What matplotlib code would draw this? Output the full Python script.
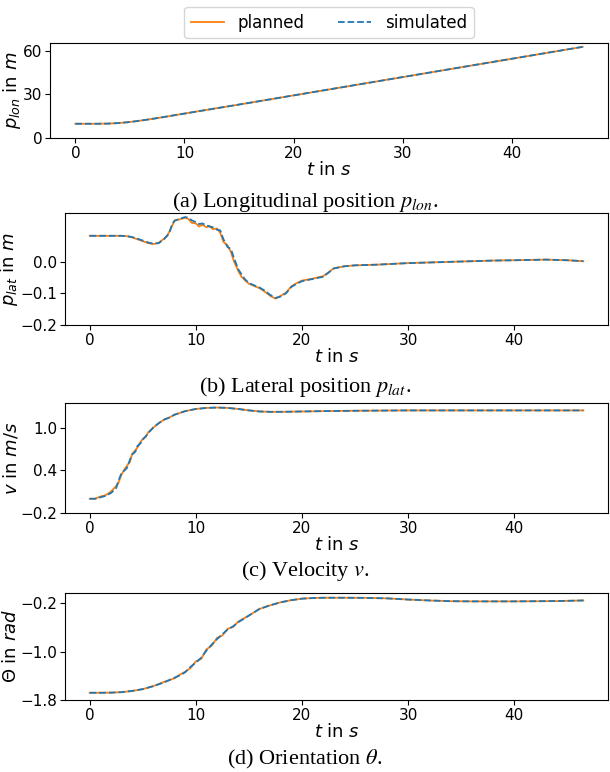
import numpy as np
import matplotlib.pyplot as plt

# longitudinal position
t_lon = [0, 1, 2, 3, 4, 5, 6, 7, 8, 10, 12, 15, 20, 25, 30, 35, 40, 45, 46.5]
lon_plan = [9.8, 9.8, 9.8, 9.9, 10.3, 11.0, 12.0, 13.1, 14.3, 16.8, 19.3, 23.0,
            29.3, 35.6, 41.9, 48.2, 54.5, 60.8, 62.7]
lon_sim = [9.8, 9.8, 9.8, 9.9, 10.3, 11.0, 12.0, 13.1, 14.3, 16.8, 19.3, 23.0,
           29.3, 35.6, 41.9, 48.2, 54.5, 60.8, 62.7]

# lateral position
t_lat = [0, 1, 2, 3, 3.5, 4, 4.5, 5, 5.5, 6, 6.5, 7, 7.3, 7.5, 7.8, 8, 8.5, 9,
         9.3, 9.6, 10, 10.3, 10.6, 11, 11.3, 11.6, 12, 12.3, 12.6, 13, 13.3,
         13.6, 14, 14.3, 14.6, 15, 15.5, 16, 16.5, 17, 17.5, 18, 18.5, 19, 19.5,
         20, 21, 22, 22.5, 23, 24, 25, 27, 30, 33, 35, 38, 40, 43, 45, 46.5]
lat_sim = [0.081, 0.081, 0.081, 0.081, 0.080, 0.077, 0.072, 0.066, 0.060, 0.056,
           0.058, 0.070, 0.082, 0.090, 0.120, 0.128, 0.135, 0.140, 0.138, 0.130,
           0.124, 0.118, 0.120, 0.114, 0.110, 0.108, 0.100, 0.098, 0.070, 0.045,
           0.040, 0.010, -0.025, -0.040, -0.055, -0.068, -0.075, -0.082, -0.092,
           -0.105, -0.115, -0.110, -0.100, -0.080, -0.070, -0.062, -0.055, -0.048,
           -0.035, -0.022, -0.015, -0.012, -0.010, -0.005, -0.002, 0.000, 0.003,
           0.004, 0.006, 0.004, 0.001]
lat_plan = [0.081, 0.081, 0.081, 0.081, 0.080, 0.076, 0.070, 0.064, 0.058, 0.055,
            0.059, 0.072, 0.080, 0.094, 0.115, 0.130, 0.133, 0.138, 0.134, 0.122,
            0.120, 0.110, 0.116, 0.108, 0.112, 0.102, 0.104, 0.090, 0.062, 0.050,
            0.030, 0.000, -0.030, -0.048, -0.058, -0.070, -0.077, -0.084, -0.095,
            -0.108, -0.117, -0.108, -0.098, -0.078, -0.068, -0.060, -0.054, -0.046,
            -0.034, -0.021, -0.015, -0.012, -0.010, -0.005, -0.002, 0.000, 0.003,
            0.004, 0.006, 0.004, 0.001]

# velocity
t_v = [0, 0.5, 1, 1.5, 2, 2.5, 2.7, 3, 3.3, 3.5, 3.8, 4, 4.3, 4.5, 4.8, 5, 5.3,
       5.5, 6, 6.5, 7, 7.5, 8, 9, 10, 11, 12, 13, 14, 15, 16, 17, 18, 20, 22, 25,
       30, 35, 40, 46.5]
v_sim = [0.0, 0.0, 0.02, 0.04, 0.08, 0.15, 0.25, 0.36, 0.40, 0.43, 0.55, 0.62,
         0.66, 0.74, 0.78, 0.83, 0.88, 0.92, 1.00, 1.06, 1.11, 1.14, 1.18, 1.23,
         1.26, 1.275, 1.28, 1.275, 1.26, 1.24, 1.225, 1.22, 1.22, 1.225, 1.23,
         1.235, 1.24, 1.24, 1.24, 1.24]
v_plan = [0.0, 0.0, 0.03, 0.05, 0.10, 0.18, 0.22, 0.34, 0.42, 0.46, 0.52, 0.63,
          0.68, 0.72, 0.80, 0.84, 0.87, 0.93, 1.00, 1.06, 1.11, 1.14, 1.18, 1.23,
          1.26, 1.275, 1.28, 1.275, 1.26, 1.24, 1.225, 1.22, 1.22, 1.225, 1.23,
          1.235, 1.24, 1.24, 1.24, 1.24]

# orientation
t_th = [0, 1, 2, 3, 4, 5, 6, 7, 8, 8.5, 9, 9.5, 10, 10.5, 11, 11.5, 12, 12.5, 13,
        13.5, 14, 15, 16, 17, 18, 19, 20, 21, 22, 24, 26, 28, 30, 32, 34, 36, 40,
        44, 46.5]
th_sim = [-1.68, -1.68, -1.678, -1.67, -1.65, -1.62, -1.57, -1.51, -1.43, -1.39,
          -1.34, -1.25, -1.18, -1.10, -0.98, -0.88, -0.79, -0.71, -0.63, -0.58,
          -0.51, -0.40, -0.29, -0.23, -0.18, -0.145, -0.12, -0.11, -0.105, -0.105,
          -0.107, -0.115, -0.135, -0.15, -0.162, -0.165, -0.165, -0.16, -0.15]
th_plan = [-1.68, -1.68, -1.678, -1.67, -1.65, -1.62, -1.57, -1.50, -1.44, -1.38,
           -1.33, -1.27, -1.16, -1.12, -0.96, -0.90, -0.77, -0.73, -0.62, -0.59,
           -0.50, -0.40, -0.29, -0.23, -0.18, -0.145, -0.12, -0.11, -0.105, -0.105,
           -0.107, -0.115, -0.135, -0.15, -0.162, -0.165, -0.165, -0.16, -0.15]

panels = [
    (t_lon, lon_plan, lon_sim, r'$p_{lon}$ in $m$', [0, 30, 60], 0,
     r'(a) Longitudinal position $p_{lon}$.'),
    (t_lat, lat_plan, lat_sim, r'$p_{lat}$ in $m$', [-0.2, -0.1, 0.0], -0.2,
     r'(b) Lateral position $p_{lat}$.'),
    (t_v, v_plan, v_sim, r'$v$ in $m/s$', [-0.2, 0.4, 1.0], -0.2,
     r'(c) Velocity $v$.'),
    (t_th, th_plan, th_sim, r'$\Theta$ in $rad$', [-1.8, -1.0, -0.2], -1.8,
     r'(d) Orientation $\theta$.'),
]

W, H = 610, 772
boxes = [(50, 43, 608, 138), (65, 213, 608, 325), (65, 403, 608, 513), (65, 593, 608, 700)]
cap_y = [202, 387, 571, 759]

fig = plt.figure(figsize=(6.1, 7.72), dpi=100)
for i, ((t, plan, sim, ylab, yt, ybot, cap), (x0, y0, x1, y1), cy) in enumerate(zip(panels, boxes, cap_y)):
    ax = fig.add_axes([x0 / W, 1 - y1 / H, (x1 - x0) / W, (y1 - y0) / H])
    ax.plot(t, plan, color='C1', lw=1.3, label='planned')
    ax.plot(t, sim, color='C0', lw=1.3, ls='--', label='simulated')
    ax.set_yticks(yt)
    ax.set_ylim(bottom=ybot)
    ax.set_xticks([0, 10, 20, 30, 40])
    ax.tick_params(labelsize=11, pad=2)
    ax.set_xlabel(r'$t$ in $s$', fontsize=13, labelpad=0)
    ax.set_ylabel(ylab, fontsize=13, labelpad=0)
    fig.text(0.5, 1 - cy / H, cap, ha='center', va='center', fontsize=16,
             family='Liberation Serif', math_fontfamily='stix')
    if i == 0:
        ax.legend(loc='lower center', bbox_to_anchor=(0.5, 1.05), ncol=2,
                  fontsize=12, columnspacing=2.0, borderaxespad=0)

fig.savefig('out.png', dpi=100)
